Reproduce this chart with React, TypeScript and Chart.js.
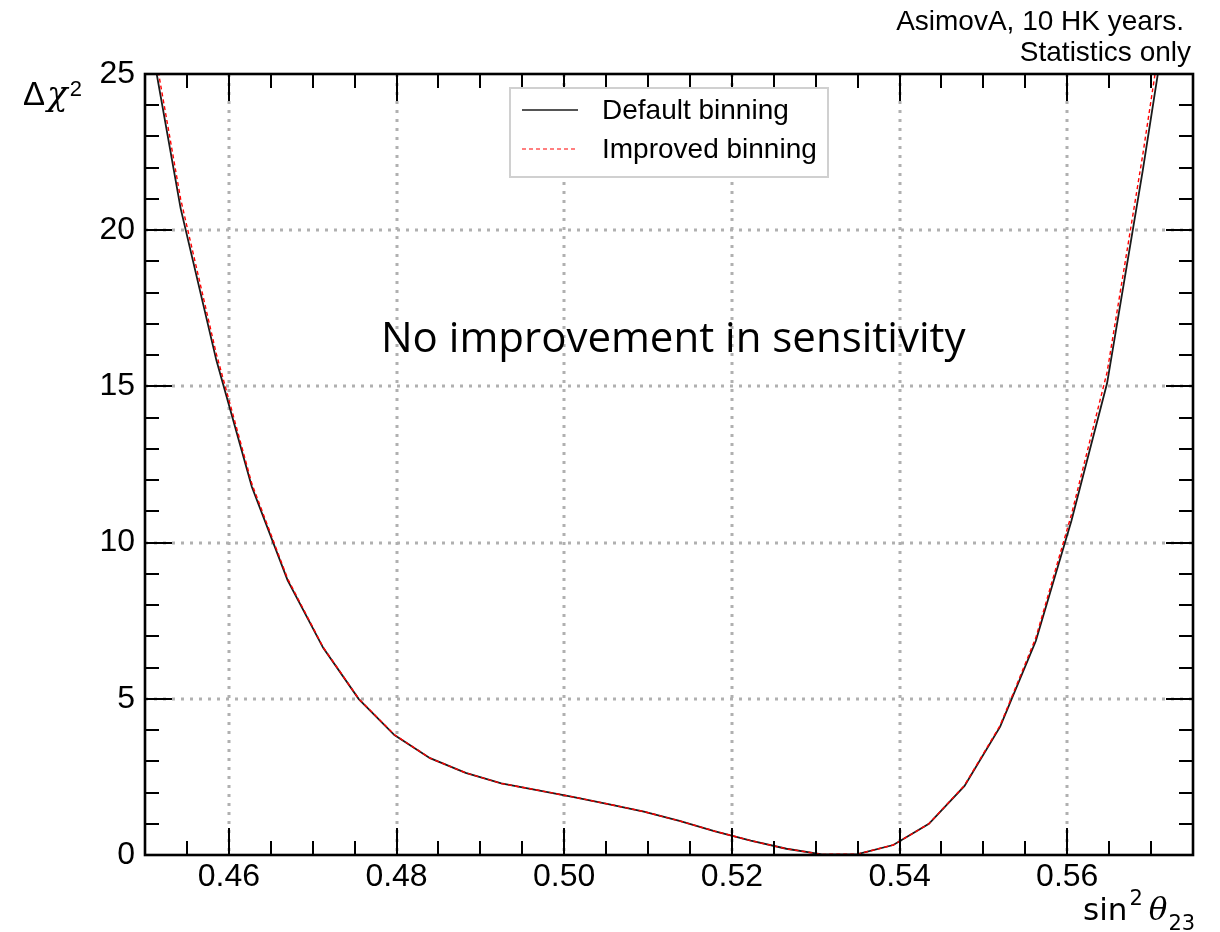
import React, { useEffect, useRef } from "react";
import { Chart, registerables } from "chart.js";

Chart.register(...registerables);

// ---- data ----
const sin2Theta23 = [
  0.45, 0.45425, 0.4585, 0.46275, 0.467, 0.47125, 0.4755, 0.47975, 0.484, 0.48825,
  0.4925, 0.49675, 0.501, 0.50525, 0.5095, 0.51375, 0.518, 0.52225, 0.5265, 0.53075,
  0.535, 0.53925, 0.5435, 0.54775, 0.552, 0.55625, 0.5605, 0.56475, 0.569, 0.57325,
];
const defaultBinning = [
  27.1, 20.7, 15.85, 11.78, 8.8, 6.63, 4.99, 3.84, 3.1, 2.63,
  2.29, 2.08, 1.86, 1.63, 1.39, 1.09, 0.76, 0.46, 0.2, 0.02,
  0.03, 0.32, 1.0, 2.21, 4.11, 6.85, 10.7, 15.1, 21.9, 29.2,
];
const improvedBinning = [
  27.5, 21.0, 16.05, 11.88, 8.85, 6.65, 5.0, 3.85, 3.1, 2.63,
  2.29, 2.08, 1.86, 1.63, 1.39, 1.09, 0.76, 0.46, 0.2, 0.02,
  0.03, 0.32, 1.0, 2.23, 4.15, 6.95, 10.9, 15.45, 22.4, 29.9,
];
const seriesLabels = ["Default binning", "Improved binning"];
const xMajorTicks = [0.46, 0.48, 0.5, 0.52, 0.54, 0.56];
const yMajorTicks = [0, 5, 10, 15, 20, 25];
const xRange = [0.45, 0.575];
const yRange = [0, 25];
const xMinorStep = 0.005;
const yMinorStep = 1;
const topNote = ["AsimovA, 10 HK years.", "Statistics only"];
const annotationText = "No improvement in sensitivity";

const SANS = '"Liberation Sans", Arial, sans-serif';

const decorPlugin = {
  id: "decor",
  beforeDatasetsDraw(chart: any) {
    const { ctx, chartArea: a, scales } = chart;
    const xs = scales.x;
    const ys = scales.y;
    ctx.save();
    ctx.strokeStyle = "#b0b0b0";
    ctx.lineWidth = 3;
    ctx.setLineDash([3, 6]);
    for (const v of xMajorTicks) {
      const px = Math.round(xs.getPixelForValue(v));
      ctx.beginPath();
      ctx.moveTo(px, a.top);
      ctx.lineTo(px, a.bottom);
      ctx.stroke();
    }
    for (const v of yMajorTicks) {
      if (v === yRange[0] || v === yRange[1]) continue;
      const py = Math.round(ys.getPixelForValue(v));
      ctx.beginPath();
      ctx.moveTo(a.left, py);
      ctx.lineTo(a.right, py);
      ctx.stroke();
    }
    ctx.restore();
  },
  afterDatasetsDraw(chart: any) {
    const { ctx, chartArea: a, scales } = chart;
    const xs = scales.x;
    const ys = scales.y;
    ctx.save();
    ctx.setLineDash([]);
    // ticks
    ctx.strokeStyle = "#000";
    ctx.lineWidth = 2;
    const majLen = 27;
    const minLen = 14;
    const nX = Math.round((xRange[1] - xRange[0]) / xMinorStep);
    for (let i = 1; i < nX; i++) {
      const v = xRange[0] + i * xMinorStep;
      const isMajor = xMajorTicks.some((m) => Math.abs(m - v) < 1e-6);
      const len = isMajor ? majLen : minLen;
      const px = Math.round(xs.getPixelForValue(v));
      ctx.beginPath();
      ctx.moveTo(px, a.bottom);
      ctx.lineTo(px, a.bottom - len);
      ctx.moveTo(px, a.top);
      ctx.lineTo(px, a.top + len);
      ctx.stroke();
    }
    const nY = Math.round((yRange[1] - yRange[0]) / yMinorStep);
    for (let i = 1; i < nY; i++) {
      const v = yRange[0] + i * yMinorStep;
      const isMajor = yMajorTicks.includes(v);
      const len = isMajor ? majLen : minLen;
      const py = Math.round(ys.getPixelForValue(v));
      ctx.beginPath();
      ctx.moveTo(a.left, py);
      ctx.lineTo(a.left + len, py);
      ctx.moveTo(a.right, py);
      ctx.lineTo(a.right - len, py);
      ctx.stroke();
    }
    // frame
    ctx.lineWidth = 2.6;
    ctx.strokeRect(a.left, a.top, a.right - a.left, a.bottom - a.top);

    // legend box
    const lx = 510, ly = 88, lw = 318, lh = 89;
    ctx.fillStyle = "#fff";
    ctx.fillRect(lx, ly, lw, lh);
    ctx.strokeStyle = "#d0d0d0";
    ctx.lineWidth = 2;
    ctx.strokeRect(lx, ly, lw, lh);
    const ds = chart.data.datasets;
    const rows = [110, 149];
    ds.forEach((d: any, i: number) => {
      ctx.strokeStyle = i === 0 ? "#555" : d.borderColor;
      ctx.lineWidth = i === 0 ? 1.8 : 1.2;
      ctx.setLineDash(d.borderDash || []);
      ctx.beginPath();
      ctx.moveTo(522, rows[i]);
      ctx.lineTo(578, rows[i]);
      ctx.stroke();
      ctx.setLineDash([]);
      ctx.fillStyle = "#000";
      ctx.font = `28px ${SANS}`;
      ctx.textAlign = "left";
      ctx.textBaseline = "middle";
      ctx.fillText(d.label, 602, rows[i] + 1);
    });

    // top-right note
    ctx.fillStyle = "#000";
    ctx.font = `28px ${SANS}`;
    ctx.textBaseline = "alphabetic";
    ctx.textAlign = "right";
    ctx.fillText(topNote[0], 1184, 30);
    ctx.fillText(topNote[1], 1191, 61);

    // annotation
    ctx.textAlign = "left";
    ctx.font = `42px "Open Sans", sans-serif`;
    ctx.fillText(annotationText, 381, 352);

    // y title: Δχ²
    let x = 23;
    ctx.font = `33px ${SANS}`;
    ctx.fillText("\u0394", x, 105);
    x += ctx.measureText("\u0394").width + 2;
    ctx.font = `italic 34px "DejaVu Serif", serif`;
    ctx.fillText("\u03c7", x, 105);
    x += ctx.measureText("\u03c7").width + 2;
    ctx.font = `22px ${SANS}`;
    ctx.fillText("2", x, 96);

    // x title: sin² θ23
    x = 1083;
    ctx.font = `31px "DejaVu Sans", sans-serif`;
    ctx.fillText("sin", x, 920);
    x += ctx.measureText("sin").width + 2;
    ctx.font = `21px "DejaVu Sans", sans-serif`;
    ctx.fillText("2", x, 905);
    x += ctx.measureText("2").width + 6;
    ctx.font = `italic 31px "DejaVu Serif", serif`;
    ctx.fillText("\u03b8", x, 920);
    x += ctx.measureText("\u03b8").width + 1;
    ctx.font = `21px "DejaVu Sans", sans-serif`;
    ctx.fillText("23", x, 930);
    ctx.restore();
  },
};

export default function App() {
  const canvasRef = useRef<HTMLCanvasElement | null>(null);

  useEffect(() => {
    const canvas = canvasRef.current;
    if (!canvas) return;
    const chart = new Chart(canvas, {
      type: "line",
      data: {
        datasets: [
          {
            label: seriesLabels[0],
            data: sin2Theta23.map((x, i) => ({ x, y: defaultBinning[i] })),
            borderColor: "#1a1a1a",
            borderWidth: 1.8,
            pointRadius: 0,
            tension: 0,
            fill: false,
            order: 2,
          },
          {
            label: seriesLabels[1],
            data: sin2Theta23.map((x, i) => ({ x, y: improvedBinning[i] })),
            borderColor: "#ff0000",
            borderWidth: 1.4,
            borderDash: [4, 3],
            pointRadius: 0,
            tension: 0,
            fill: false,
            order: 1,
          },
        ],
      },
      options: {
        responsive: false,
        animation: false,
        devicePixelRatio: 1,
        events: [],
        layout: { padding: { top: 74, right: 27, bottom: 0, left: 0 } },
        plugins: {
          legend: { display: false },
          tooltip: { enabled: false },
          title: { display: false },
        },
        scales: {
          x: {
            type: "linear",
            min: xRange[0],
            max: xRange[1],
            grid: { display: false, drawTicks: false },
            border: { display: false },
            afterBuildTicks: (s: any) => {
              s.ticks = xMajorTicks.map((v) => ({ value: v }));
            },
            afterFit: (s: any) => {
              s.height = 77;
            },
            ticks: {
              padding: 3,
              color: "#000",
              font: { family: "Liberation Sans", size: 32 },
              maxRotation: 0,
              autoSkip: false,
              callback: (v: any) => Number(v).toFixed(2),
            },
          },
          y: {
            type: "linear",
            min: yRange[0],
            max: yRange[1],
            grid: { display: false, drawTicks: false },
            border: { display: false },
            afterBuildTicks: (s: any) => {
              s.ticks = yMajorTicks.map((v) => ({ value: v }));
            },
            afterFit: (s: any) => {
              s.width = 145;
            },
            ticks: {
              padding: 10,
              color: "#000",
              font: { family: "Liberation Sans", size: 32 },
              autoSkip: false,
              callback: (v: any) => String(v),
            },
          },
        },
      },
      plugins: [decorPlugin],
    });
    return () => chart.destroy();
  }, []);

  return (
    <div
      style={{
        position: "fixed",
        left: 0,
        top: 0,
        width: 1220,
        height: 932,
        background: "#fff",
      }}
    >
      <canvas ref={canvasRef} width={1220} height={932} style={{ display: "block" }} />
    </div>
  );
}
